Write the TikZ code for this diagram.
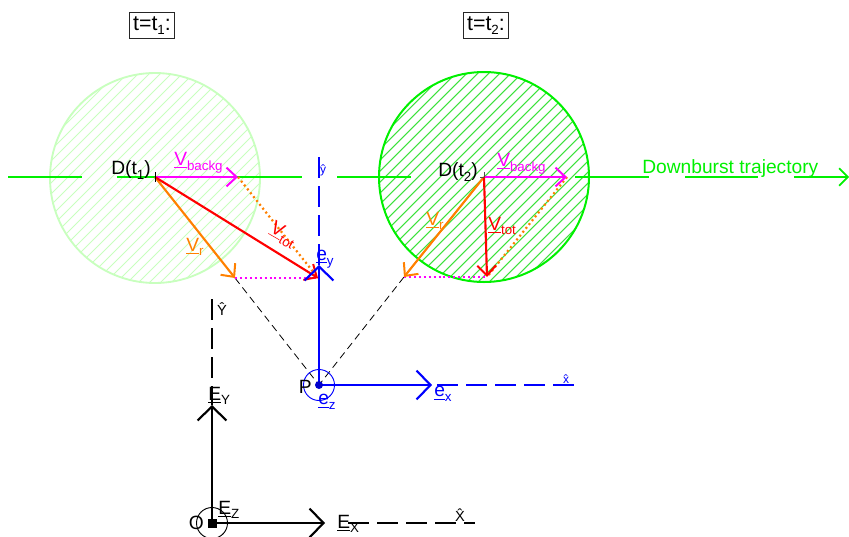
\documentclass[tikz,border=0pt]{standalone}
\usepackage{fontspec}
\setmainfont{Liberation Sans}
\usetikzlibrary{arrows.meta}
\definecolor{lgreen}{RGB}{200,255,190}
\definecolor{vgreen}{RGB}{0,240,0}
\definecolor{vmag}{RGB}{255,0,255}
\definecolor{vor}{RGB}{255,128,0}
\definecolor{hatchdark}{RGB}{60,225,60}
\newcommand{\subt}[1]{\raisebox{-3.5pt}{\fontsize{10pt}{10pt}\selectfont #1}}
\newcommand{\ulab}[2]{\underline{#1}\subt{#2}}
\tikzset{
  lab/.style={inner sep=0pt,font=\fontsize{14.4pt}{15pt}\selectfont},
  smalllab/.style={inner sep=0pt,font=\fontsize{9pt}{10pt}\selectfont},
  medlab/.style={inner sep=0pt,font=\fontsize{11pt}{11pt}\selectfont},
  barb/.style={-{Straight Barb[length=7.5pt,width=14pt,line width=1.5pt]}},
  bigbarb/.style={-{Straight Barb[length=10.5pt,width=21.7pt,line width=1.6pt]}},
  vec/.style={line width=1.6pt,barb},
  dotted vec/.style={line width=1.7pt,dash pattern=on 1.5pt off 2.2pt},
  axisdash/.style={line width=1.4pt,dash pattern=on 15.5pt off 6.3pt},
  sight/.style={black,line width=.6pt,dash pattern=on 5.5pt off 3.5pt},
  timebox/.style={draw=black!85,line width=.8pt,inner sep=2.5pt,font=\fontsize{16pt}{17pt}\selectfont},
}
\begin{document}
\begin{tikzpicture}[x=0.75pt,y=-0.75pt]
\useasboundingbox (0,0) rectangle (849,536);
% points
\coordinate (D1) at (155,177);
\coordinate (D2) at (484,177);
\coordinate (B1) at (238,177);
\coordinate (B2) at (567,177);
\coordinate (R1) at (235,278);
\coordinate (R2) at (404,277);
\coordinate (T1) at (318,278);
\coordinate (T2) at (487,277);
\coordinate (P) at (319,385);
\coordinate (O) at (212,523);
\coordinate (ex) at (432,385);
\coordinate (ey) at (319,265);
\coordinate (EX) at (325,523);
\coordinate (EY) at (212,405);
% discs
\begin{scope}
\clip (D1) ++(0,1) circle[radius=105];
\foreach \k in {-30,...,30}{
  \draw[lgreen,line width=.7pt] (155+\k*11-120,178+120) -- (155+\k*11+120,178-120);
}
\end{scope}
\draw[lgreen,line width=1.4pt] (D1) ++(0,1) circle[radius=105];
\begin{scope}
\clip (D2) circle[radius=105];
\foreach \k in {-30,...,30}{
  \draw[hatchdark,line width=.8pt] (484+\k*11-120,177+120) -- (484+\k*11+120,177-120);
}
\end{scope}
\draw[vgreen,line width=1.5pt] (D2) circle[radius=105];
% trajectory
\coordinate (g0) at (8,177);\coordinate (g1) at (82,177);
\coordinate (g2) at (117,177);\coordinate (g3) at (302,177);
\coordinate (g4) at (337,177);\coordinate (g5) at (411,177);
\coordinate (g6) at (575,177);\coordinate (g7) at (649,177);
\coordinate (g8) at (685,177);\coordinate (g9) at (758,177);
\coordinate (g10) at (794,177);\coordinate (g11) at (849,177);
\draw[vgreen,line width=1.3pt] (g0)--(g1) (g2)--(g3) (g4)--(g5) (g6)--(g7) (g8)--(g9);
\draw[vgreen,line width=1.3pt,-{Straight Barb[length=6.5pt,width=13pt,line width=1.3pt]}] (g10)--(g11);
% sight lines
\draw[sight] (R1)--(P);
\draw[sight] (R2)--(P);
% dotted
\draw[vor,dotted vec] (B1)--(T1);
\draw[vor,dotted vec] (B2)--(T2);
\draw[vmag,dotted vec] (R1)--(T1);
\draw[vmag,dotted vec] (R2)--(T2);
% vectors
\draw[vor,vec] (D1)--(R1);
\draw[vor,vec] (D2)--(R2);
\draw[vmag,vec] (D1)--(B1);
\draw[vmag,vec] (D2)--(B2);
\draw[red,vec] (D1)--(T1);
\draw[red,vec] (D2)--(T2);
% tick marks at centres
\draw[black,line width=.5pt] (155,172)--(155,182);
\draw[black!70,line width=.5pt] (480,177)--(D2);
\draw[black!70,line width=.5pt] (484,172)--(D2);
% local frame
\coordinate (yh) at (319,157);
\coordinate (xh) at (576,385);
\coordinate (xs) at (437,385);
\draw[blue,axisdash] (yh)--(ey);
\draw[blue,axisdash] (xs)--(xh);
\draw[blue,line width=2pt,bigbarb] (P)--(ey);
\draw[blue,line width=2pt,bigbarb] (P)--(ex);
\draw[blue,line width=.7pt] (P) circle[radius=15.5];
\fill[blue!80!black] (P) circle[radius=4];
\node[lab,anchor=east] (Pl) at (312,387) {P};
\node[lab,blue,anchor=west] (ezl) at (318,402) {\ulab{e}{z}};
\node[lab,blue,anchor=west] (exl) at (434,394) {\ulab{e}{x}};
\node[lab,blue,anchor=west] (eyl) at (316,259) {\ulab{e}{y}};
\node[smalllab,blue] (yhl) at (323,170) {\^{y}};
\node[smalllab,blue] (xhl) at (566,379) {\^{x}};
% global frame
\coordinate (Yh) at (212,299);
\coordinate (Xh) at (475,523);
\coordinate (Xs) at (348,523);
\draw[black,axisdash] (Yh)--(EY);
\draw[black,axisdash] (Xs)--(Xh);
\draw[black,line width=1.6pt,bigbarb] (O)--(EY);
\draw[black,line width=1.6pt,bigbarb] (O)--(EX);
\begin{scope}
\clip (0,0) rectangle (849,536);
\draw[black,line width=.7pt] (O) circle[radius=15.5];
\end{scope}
\fill[black] (207.5,518.5) rectangle (216.5,527.5);
\node[lab,anchor=east] (Ol) at (204,523) {O};
\node[lab,anchor=west] (EYl) at (208,396) {\ulab{E}{Y}};
\node[lab,anchor=west] (EZl) at (218,510) {\ulab{E}{Z}};
\node[lab,anchor=west] (EXl) at (337,524) {\ulab{E}{X}};
\node[medlab] (Yhl) at (222,309) {\^{Y}};
\node[medlab] (Xhl) at (460,515) {\^{X}};
% labels
\node[lab,anchor=west] (d1l) at (111,170) {D(t\subt{1})};
\node[lab,anchor=west] (d2l) at (438,172) {D(t\subt{2})};
\node[lab,vmag,anchor=west] (b1l) at (174,163) {\ulab{V}{backg}};
\node[lab,vmag,anchor=west] (b2l) at (497,164) {\ulab{V}{backg}};
\node[lab,vor,anchor=west] (r1l) at (186,247) {\ulab{V}{r}};
\node[lab,vor,anchor=west] (r2l) at (426,221) {\ulab{V}{r}};
\node[lab,red,anchor=west,rotate=-30] (t1l) at (271,228) {\ulab{V}{tot}};
\node[lab,red,anchor=west] (t2l) at (488,226) {\ulab{V}{tot}};
\node[lab,vgreen,anchor=west] (trl) at (642,169) {Downburst trajectory};
\node[timebox] (t1b) at (152,25.5) {t=t\subt{1}:};
\node[timebox] (t2b) at (486,25.5) {t=t\subt{2}:};
\end{tikzpicture}
\end{document}
